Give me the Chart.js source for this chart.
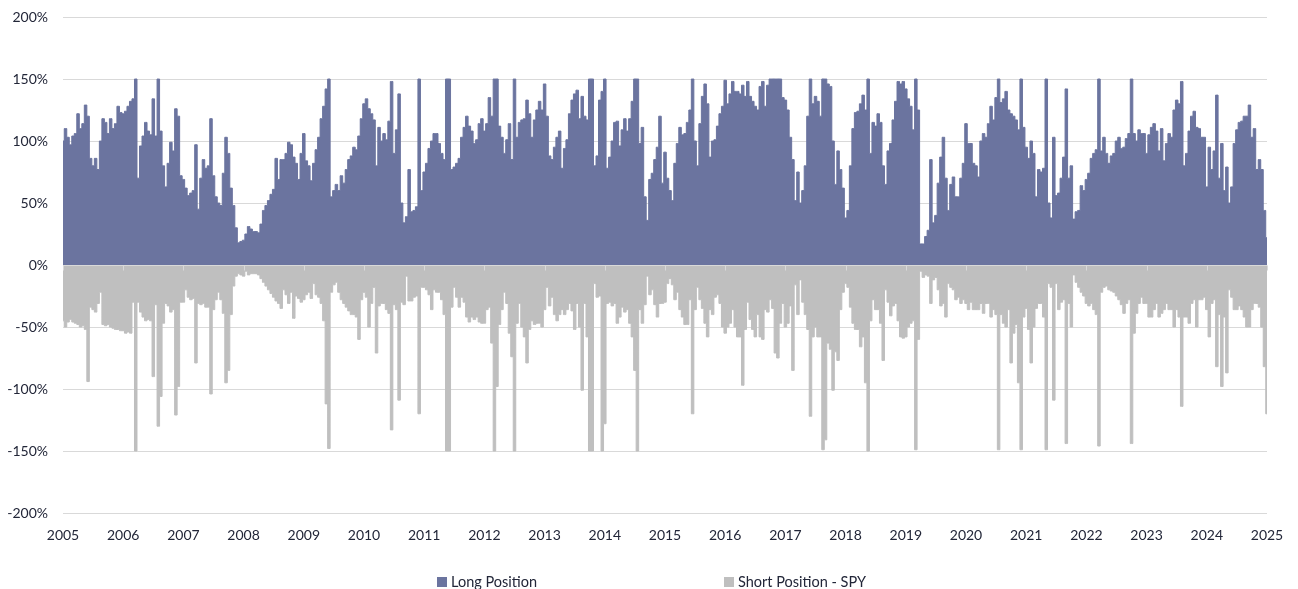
<!DOCTYPE html>
<html>
<head>
<meta charset="utf-8">
<title>Long / Short Position</title>
<script src="https://cdn.jsdelivr.net/npm/chart.js@4.4.1/dist/chart.umd.min.js"></script>
<style>
  body { margin: 0; background: #fff; }
  #wrap { position: relative; width: 1298px; height: 589px; }
  #legend { position: absolute; top: 573px; left: 0; width: 1298px; height: 17px; font: 14.5px Lato, sans-serif; color: #222638; }
  #legend .item { position: absolute; top: 0; height: 17px; display: flex; align-items: center; white-space: nowrap; }
  #legend .box { width: 10px; height: 10px; margin-right: 4px; }
</style>
</head>
<body>
<div id="wrap">
  <canvas id="chart" width="1298" height="589"></canvas>
  <div id="legend"></div>
</div>
<script>
// one row per year, 24 readings per year (roughly twice a month), in %
const years = [2005, 2006, 2007, 2008, 2009, 2010, 2011, 2012, 2013, 2014,
               2015, 2016, 2017, 2018, 2019, 2020, 2021, 2022, 2023, 2024];
const perYear = 24;

const longPos = [
  [100,110,103,97,104,106,122,110,114,129,120,86,80,86,77,100,118,115,106,118,110,114,128,123],
  [122,124,128,132,134,150,70,96,104,115,108,105,134,104,150,108,80,63,82,99,92,126,120,72],
  [69,62,56,58,60,97,45,70,85,78,80,118,72,55,50,48,74,103,90,62,48,30,18,19],
  [20,25,31,29,27,27,26,33,44,48,52,57,61,86,69,85,85,90,99,97,87,82,69,90],
  [106,84,80,68,82,93,103,118,128,142,150,55,60,65,60,72,66,77,85,88,95,93,104,118],
  [130,134,126,122,117,80,111,100,106,101,116,148,90,109,138,50,34,39,77,43,44,47,150,60],
  [75,82,94,100,106,106,98,90,85,150,150,77,79,82,86,103,111,120,112,108,98,101,114,118],
  [108,114,135,120,150,150,112,103,90,101,114,85,150,103,115,117,118,133,122,103,117,125,132,125],
  [146,120,88,85,95,103,108,78,94,101,122,133,138,141,118,136,120,117,150,150,80,88,133,140],
  [150,78,87,100,115,116,96,109,118,108,118,132,150,150,98,111,55,36,69,74,85,95,120,66],
  [91,70,60,52,82,98,111,105,106,115,125,150,100,80,114,136,146,130,87,100,101,112,122,128],
  [149,130,138,148,140,140,138,145,136,148,136,132,128,125,144,148,128,145,150,150,150,150,150,135],
  [133,125,103,85,52,75,50,60,80,120,150,130,136,132,120,150,150,146,144,100,65,92,77,62],
  [38,44,80,110,123,124,130,137,125,150,90,115,112,122,115,80,65,92,98,117,132,148,146,148],
  [142,134,128,109,150,125,17,17,23,28,85,34,40,66,87,103,70,44,65,71,55,55,70,82],
  [114,98,98,82,80,71,100,106,103,114,128,117,135,150,131,134,140,125,122,120,117,109,150,111],
  [95,86,100,90,55,77,75,78,150,50,38,103,56,58,70,87,142,70,80,37,43,44,64,60],
  [69,74,86,90,93,150,92,103,90,82,88,90,100,103,94,95,102,106,150,106,100,109,106,106],
  [90,105,111,114,108,92,110,84,98,106,103,125,133,130,148,80,90,108,120,124,111,110,103,103],
  [63,95,77,92,137,70,98,60,79,50,63,98,109,115,116,120,120,129,103,110,77,85,77,44]
];

const shortPos = [
  [-45,-50,-46,-44,-46,-47,-48,-50,-49,-52,-94,-34,-36,-38,-31,-22,-48,-49,-48,-50,-51,-52,-52,-53],
  [-53,-55,-54,-55,-30,-150,-30,-38,-42,-45,-44,-45,-90,-32,-130,-106,-47,-31,-33,-38,-36,-121,-98,-30],
  [-30,-20,-26,-28,-27,-79,-31,-32,-31,-34,-34,-104,-36,-28,-22,-28,-39,-95,-85,-40,-17,-9,-7,-8],
  [-9,-5,-8,-7,-7,-7,-8,-11,-14,-17,-20,-23,-26,-29,-31,-35,-20,-24,-31,-22,-43,-25,-27,-30],
  [-28,-24,-22,-27,-15,-24,-26,-31,-45,-112,-148,-22,-16,-14,-22,-28,-31,-34,-37,-40,-40,-42,-60,-28],
  [-22,-26,-50,-31,-18,-71,-33,-31,-31,-36,-39,-133,-32,-36,-109,-30,-32,-9,-29,-29,-26,-25,-120,-18],
  [-18,-20,-24,-36,-20,-22,-22,-28,-40,-150,-150,-34,-18,-26,-34,-26,-30,-42,-46,-42,-44,-42,-46,-47],
  [-47,-36,-34,-63,-150,-98,-48,-36,-22,-31,-55,-74,-150,-47,-31,-50,-58,-79,-52,-45,-48,-47,-47,-50],
  [-36,-18,-33,-26,-40,-45,-40,-36,-40,-36,-31,-37,-52,-31,-50,-101,-31,-58,-150,-150,-15,-26,-25,-150],
  [-128,-31,-30,-33,-31,-47,-42,-34,-38,-36,-47,-58,-85,-150,-36,-47,-32,-9,-24,-20,-32,-42,-31,-31],
  [-30,-15,-11,-16,-28,-22,-36,-42,-48,-48,-28,-120,-36,-18,-28,-35,-47,-58,-36,-40,-26,-24,-31,-50],
  [-55,-50,-47,-36,-50,-58,-58,-97,-52,-30,-44,-52,-58,-40,-58,-60,-36,-38,-28,-35,-71,-75,-47,-31],
  [-50,-47,-33,-85,-16,-40,-12,-30,-40,-52,-122,-58,-50,-58,-58,-149,-141,-63,-68,-101,-70,-77,-36,-22],
  [-15,-18,-34,-47,-52,-52,-66,-58,-95,-150,-45,-28,-36,-36,-47,-77,-20,-30,-41,-33,-31,-45,-58,-59],
  [-58,-50,-47,-45,-149,-60,-5,-10,-8,-9,-31,-12,-10,-20,-33,-31,-42,-15,-18,-20,-28,-26,-31,-28],
  [-31,-36,-30,-36,-36,-36,-31,-39,-31,-31,-42,-36,-40,-149,-40,-47,-50,-36,-79,-55,-48,-95,-149,-42],
  [-35,-52,-79,-50,-35,-31,-31,-42,-149,-15,-18,-109,-15,-36,-30,-28,-144,-31,-50,-8,-14,-18,-22,-25],
  [-31,-33,-31,-36,-40,-146,-22,-18,-17,-20,-21,-22,-25,-28,-32,-39,-31,-28,-144,-55,-39,-31,-26,-31],
  [-31,-42,-42,-36,-31,-42,-39,-36,-31,-36,-36,-50,-36,-42,-114,-42,-42,-47,-31,-28,-50,-28,-28,-26],
  [-36,-58,-31,-28,-82,-40,-98,-42,-87,-20,-26,-36,-36,-33,-36,-42,-50,-50,-36,-31,-31,-34,-50,-82]
];

// last reading, at the start of 2025
const lastLong = 22;
const lastShort = -120;

const yTicks = [-200, -150, -100, -50, 0, 50, 100, 150, 200];

const longColor = '#6B749F';
const shortColor = '#BFBFBF';
const gridColor = '#D9D9D9';
const textColor = '#222638';
const font = { family: 'Lato, sans-serif', size: 14 };

function toPoints(rows, last) {
  const pts = [];
  years.forEach((yr, i) => {
    rows[i].forEach((v, j) => pts.push({ x: yr + j / perYear, y: v }));
  });
  pts.push({ x: years[years.length - 1] + 1, y: last });
  return pts;
}

// zero line with small year ticks, drawn over the filled areas
const zeroAxis = {
  id: 'zeroAxis',
  afterDatasetsDraw(chart) {
    const { ctx, chartArea, scales: { x, y } } = chart;
    const y0 = Math.round(y.getPixelForValue(0)) + 0.5;
    ctx.save();
    ctx.strokeStyle = gridColor;
    ctx.lineWidth = 1;
    ctx.beginPath();
    ctx.moveTo(chartArea.left, y0);
    ctx.lineTo(chartArea.right, y0);
    x.ticks.forEach(t => {
      const px = Math.round(x.getPixelForValue(t.value)) + 0.5;
      ctx.moveTo(px, y0);
      ctx.lineTo(px, y0 + 5);
    });
    ctx.stroke();
    ctx.restore();
  }
};

const chart = new Chart(document.getElementById('chart'), {
  type: 'line',
  data: {
    datasets: [
      {
        label: 'Long Position',
        data: toPoints(longPos, lastLong),
        borderColor: longColor,
        backgroundColor: longColor,
        fill: 'origin'
      },
      {
        label: 'Short Position - SPY',
        data: toPoints(shortPos, lastShort),
        borderColor: shortColor,
        backgroundColor: shortColor,
        fill: 'origin'
      }
    ]
  },
  options: {
    responsive: false,
    animation: false,
    layout: { padding: { top: 17, right: 31, bottom: 44, left: 0 } },
    elements: {
      point: { radius: 0 },
      line: { tension: 0, borderWidth: 1, stepped: 'middle' }
    },
    plugins: {
      legend: { display: false },
      tooltip: { enabled: false }
    },
    scales: {
      x: {
        type: 'linear',
        min: years[0],
        max: years[years.length - 1] + 1,
        grid: { display: false, drawTicks: false },
        border: { display: false },
        ticks: {
          stepSize: 1,
          autoSkip: false,
          maxRotation: 0,
          padding: 14,
          color: textColor,
          font: font,
          callback: v => String(v)
        },
        afterFit: s => { s.height = 32; }
      },
      y: {
        min: yTicks[0],
        max: yTicks[yTicks.length - 1],
        afterBuildTicks: s => { s.ticks = yTicks.map(v => ({ value: v })); },
        grid: { color: gridColor, drawTicks: false },
        border: { display: false },
        ticks: {
          padding: 15,
          color: textColor,
          font: font,
          callback: v => v + '%'
        },
        afterFit: s => {
          s.width = 63;
          s.paddingTop = 0;
          s.paddingBottom = 0;
        }
      }
    }
  },
  plugins: [zeroAxis]
});

// legend below the plot, items spaced wide apart
const legendLeft = [437, 724];
const legend = document.getElementById('legend');
chart.data.datasets.forEach((ds, i) => {
  const item = document.createElement('span');
  item.className = 'item';
  item.style.left = legendLeft[i] + 'px';
  const box = document.createElement('span');
  box.className = 'box';
  box.style.background = ds.backgroundColor;
  item.appendChild(box);
  item.appendChild(document.createTextNode(ds.label));
  legend.appendChild(item);
});
</script>
</body>
</html>
